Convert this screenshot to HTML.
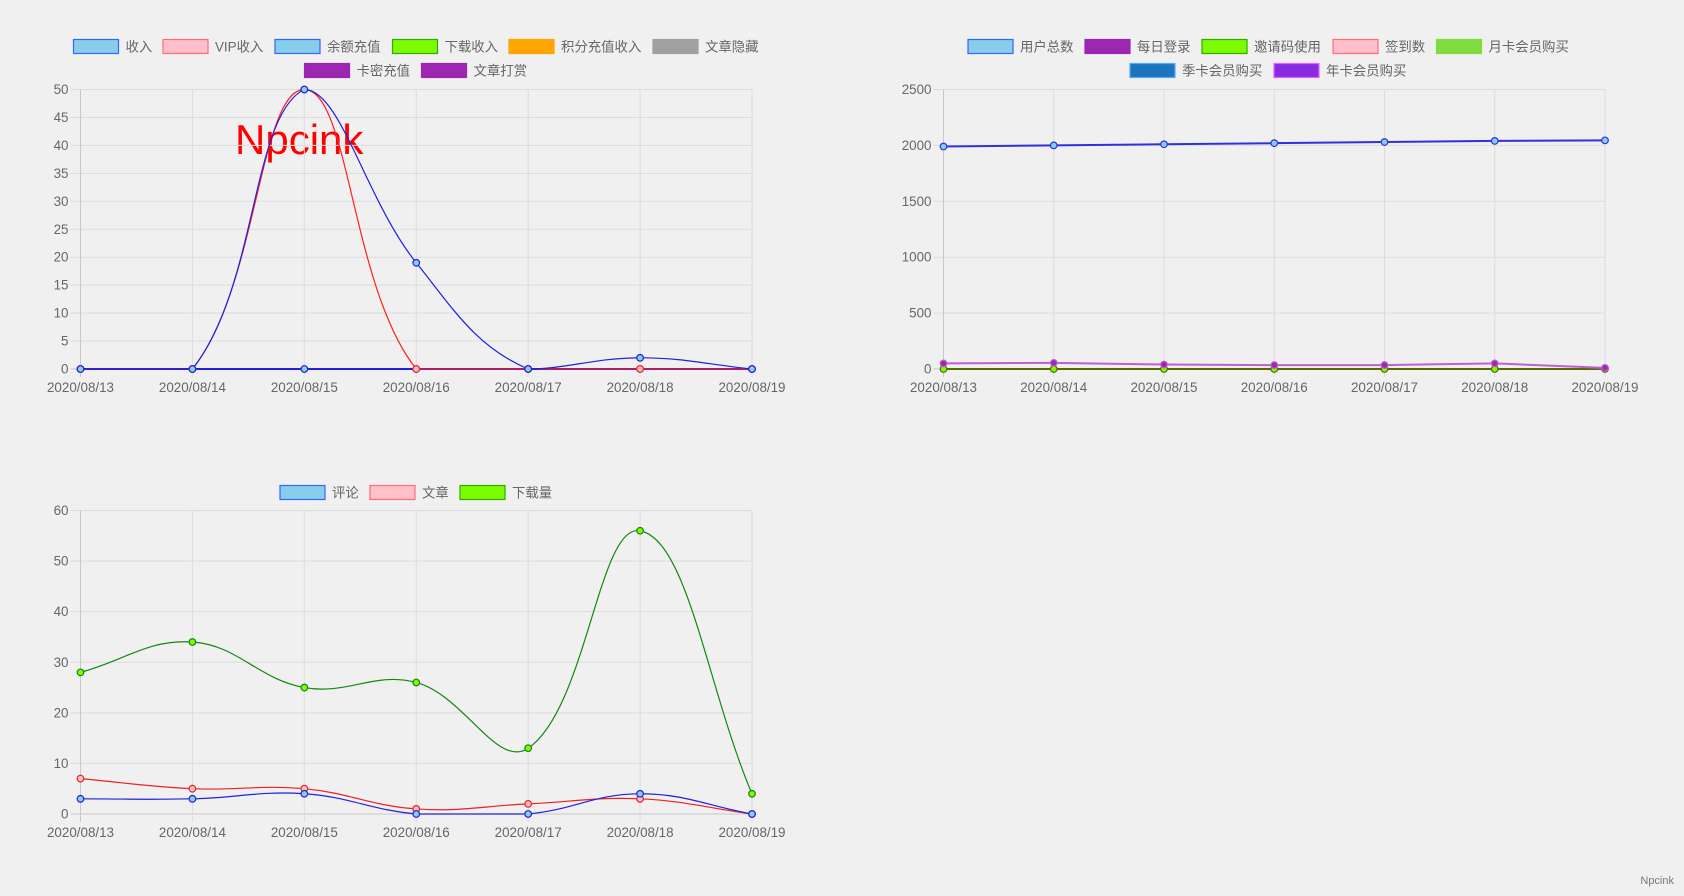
<!DOCTYPE html>
<html><head><meta charset="utf-8"><style>
html,body{margin:0;padding:0;background:#f0f0f0;width:1684px;height:896px;overflow:hidden;font-family:"Liberation Sans","Noto Sans CJK SC",sans-serif}
svg{position:absolute;left:0;top:0}
</style></head><body>
<svg id="s" width="1684" height="896">
<text x="235" y="154" font-size="42" fill="#ff0000" font-family="Liberation Sans, sans-serif">Npcink</text>
<text x="1674" y="884" font-size="11" fill="#777" text-anchor="end">Npcink</text>
</svg>
<script>
const dates=['2020/08/13','2020/08/14','2020/08/15','2020/08/16','2020/08/17','2020/08/18','2020/08/19'];
// chart 1
const c1Ticks=[0,5,10,15,20,25,30,35,40,45,50];
const c1Income=[0,0,50,19,0,2,0];
const c1Vip=[0,0,50,0,0,0,0];
const c1Zero=[0,0,0,0,0,0,0];
// chart 2
const c2Ticks=[0,500,1000,1500,2000,2500];
const c2Users=[1990,2000,2010,2020,2030,2040,2045];
const c2Login=[50,55,40,35,35,50,10];
const c2Invite=[0,0,0,0,0,0,0];
// chart 3
const c3Ticks=[0,10,20,30,40,50,60];
const c3Comments=[3,3,4,0,0,4,0];
const c3Posts=[7,5,5,1,2,3,0];
const c3Downloads=[28,34,25,26,13,56,4];

const NS='http://www.w3.org/2000/svg';
const svg=document.getElementById('s');
function mk(tag,attrs,parent){const e=document.createElementNS(NS,tag);for(const k in attrs)e.setAttribute(k,attrs[k]);(parent||svg).appendChild(e);return e;}

function chart(opt){
  const g=mk('g',{});
  
  
  const {x0,x1,y0,y1,max}=opt;
  const xs=i=>x0+(x1-x0)*i/(dates.length-1);
  const ys=v=>y0-(y0-y1)*v/max;
  // grid
  opt.ticks.forEach(t=>{
    const y=ys(t);
    const l=mk('line',{x1:x0-10,x2:x1,y1:y,y2:y,stroke:t===0?'#c8c8c8':'#dcdcdc','stroke-width':1},g);
    
    
    const tx=mk('text',{x:x0-12,y:y+4.5,'font-size':13.4,fill:'#666','text-anchor':'end'},g);
    tx.textContent=t;
    
    
  });
  dates.forEach((d,i)=>{
    const x=xs(i);
    const l=mk('line',{x1:x,x2:x,y1:y1,y2:y0+8,stroke:i===0?'#c8c8c8':'#dcdcdc','stroke-width':1},g);
    
    
    const tx=mk('text',{x:x,y:y0+23,'font-size':13.4,fill:'#666','text-anchor':'middle'},g);
    tx.textContent=d;
    
    
  });
  // legend
  opt.legend.forEach(it=>{
    const r=mk('rect',{x:it.x,y:it.y-7,width:45,height:14,fill:it.fill,stroke:it.stroke,'stroke-width':1.2},g);
    
    
    const tx=mk('text',{x:it.x+52,y:it.y+5,'font-size':13.4,fill:'#666'},g);
    tx.textContent=it.label;
    
    
  });
  // series
  opt.series.forEach(s=>{
    const pts=s.data.map((v,i)=>[xs(i),ys(v)]);
    let d='M'+pts[0][0]+','+pts[0][1];
    const t=s.tension;
    const cps=pts.map((p,i)=>{
      const pr=pts[Math.max(0,i-1)],nx=pts[Math.min(pts.length-1,i+1)];
      const d01=Math.hypot(p[0]-pr[0],p[1]-pr[1]),d12=Math.hypot(nx[0]-p[0],nx[1]-p[1]);
      let fa=d01/(d01+d12)||0,fb=d12/(d01+d12)||0;fa*=t;fb*=t;
      const cl=y=>Math.max(y1,Math.min(y0,y));
      return {p:[p[0]-fa*(nx[0]-pr[0]),cl(p[1]-fa*(nx[1]-pr[1]))],n:[p[0]+fb*(nx[0]-pr[0]),cl(p[1]+fb*(nx[1]-pr[1]))]};
    });
    for(let i=1;i<pts.length;i++){
      d+=' C'+cps[i-1].n[0]+','+cps[i-1].n[1]+' '+cps[i].p[0]+','+cps[i].p[1]+' '+pts[i][0]+','+pts[i][1];
    }
    const path=mk('path',{d:d,fill:'none',stroke:s.stroke,'stroke-width':s.w||1.2},g);
    
    
    pts.forEach(p=>{
      const c=mk('circle',{cx:p[0],cy:p[1],r:3.3,fill:s.fill,stroke:s.stroke,'stroke-width':1.2},g);
      
      
    });
  });
}

chart({name:'revenue-chart',x0:80.5,x1:752,y0:369,y1:89.5,max:50,ticks:c1Ticks,
 legend:[
  {x:73.5,y:46.5,label:'收入',fill:'#87ceeb',stroke:'#3366ff'},
  {x:163,y:46.5,label:'VIP收入',fill:'#ffc0cb',stroke:'#ff6b7a'},
  {x:275,y:46.5,label:'余额充值',fill:'#87ceeb',stroke:'#3366ff'},
  {x:392.5,y:46.5,label:'下载收入',fill:'#7cfc00',stroke:'#33aa00'},
  {x:509,y:46.5,label:'积分充值收入',fill:'#ffa500',stroke:'#ffa500'},
  {x:653,y:46.5,label:'文章隐藏',fill:'#a0a0a0',stroke:'#a0a0a0'},
  {x:304.5,y:70.5,label:'卡密充值',fill:'#9c27b0',stroke:'#9c27b0'},
  {x:421.5,y:70.5,label:'文章打赏',fill:'#9c27b0',stroke:'#9c27b0'}],
 series:[
  {name:'zero',data:c1Zero,stroke:'#2020dd',fill:'#87ceeb',tension:0.4,w:2},
  {name:'vip-income',data:c1Vip,stroke:'#ff2020',fill:'#ffc0cb',tension:0.4},
  {name:'income',data:c1Income,stroke:'#2020dd',fill:'#87ceeb',tension:0.4}]});

chart({name:'users-chart',x0:943.5,x1:1605,y0:369,y1:89.5,max:2500,ticks:c2Ticks,
 legend:[
  {x:968,y:46.5,label:'用户总数',fill:'#87ceeb',stroke:'#3366ff'},
  {x:1085,y:46.5,label:'每日登录',fill:'#9c27b0',stroke:'#9c27b0'},
  {x:1202,y:46.5,label:'邀请码使用',fill:'#7cfc00',stroke:'#33aa00'},
  {x:1333,y:46.5,label:'签到数',fill:'#ffc0cb',stroke:'#ff6b7a'},
  {x:1436.5,y:46.5,label:'月卡会员购买',fill:'#7fdd3f',stroke:'#7fdd3f'},
  {x:1130,y:70.5,label:'季卡会员购买',fill:'#1e73be',stroke:'#55aaff'},
  {x:1274,y:70.5,label:'年卡会员购买',fill:'#8a2be2',stroke:'#dd66ff'}],
 series:[
  {name:'invite',data:c2Invite,stroke:'#556b00',fill:'#7cfc00',tension:0,w:2},
  {name:'daily-login',data:c2Login,stroke:'#c060d0',fill:'#9c27b0',tension:0,w:2},
  {name:'total-users',data:c2Users,stroke:'#3030e0',fill:'#87ceeb',tension:0,w:2}]});

chart({name:'content-chart',x0:80.5,x1:752,y0:814,y1:510.5,max:60,ticks:c3Ticks,
 legend:[
  {x:280,y:492.5,label:'评论',fill:'#87ceeb',stroke:'#3366ff'},
  {x:370,y:492.5,label:'文章',fill:'#ffc0cb',stroke:'#ff6b7a'},
  {x:460,y:492.5,label:'下载量',fill:'#7cfc00',stroke:'#33aa00'}],
 series:[
  {name:'downloads',data:c3Downloads,stroke:'#118811',fill:'#7cfc00',tension:0.4},
  {name:'posts',data:c3Posts,stroke:'#ee2020',fill:'#ffc0cb',tension:0.4},
  {name:'comments',data:c3Comments,stroke:'#2020dd',fill:'#87ceeb',tension:0.4}]});
</script>
</body></html>
